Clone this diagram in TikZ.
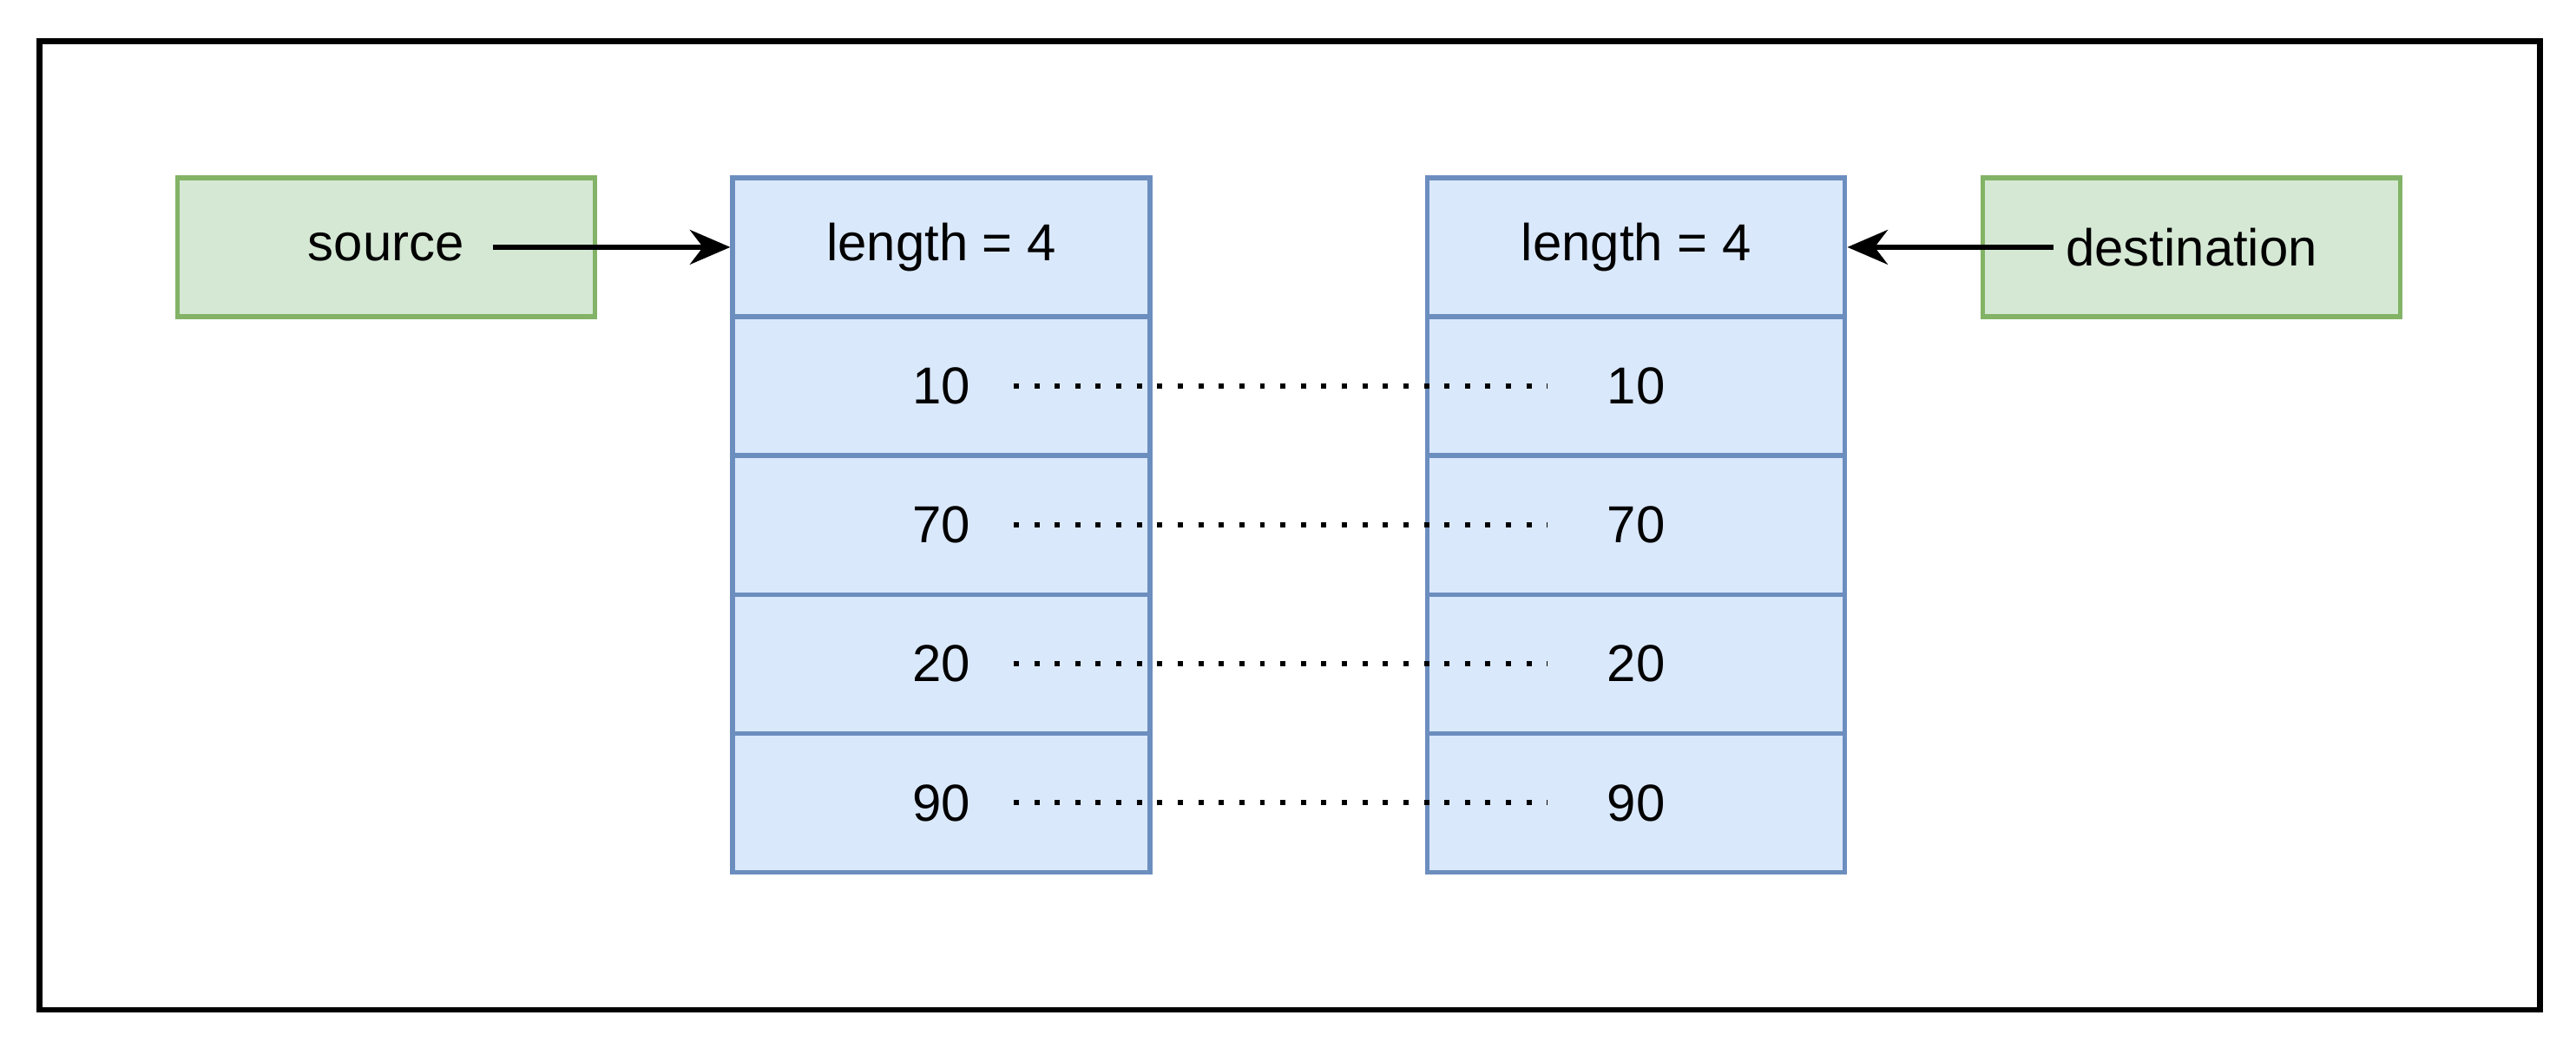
\documentclass[tikz,border=0pt]{standalone}
\usepackage{fontspec}
\setmainfont{Liberation Sans}
\usetikzlibrary{arrows.meta}
\definecolor{cellfill}{HTML}{DAE8FC}
\definecolor{celldraw}{HTML}{6C8EBF}
\definecolor{ptrfill}{HTML}{D5E8D4}
\definecolor{ptrdraw}{HTML}{82B366}
\tikzset{
  cell/.style={
    draw=celldraw, fill=cellfill, line width=0.8pt,
    minimum width=2.54cm, minimum height=0.845cm,
    inner sep=0pt, font=\fontsize{9}{10}\selectfont
  },
  pointer/.style={
    cell, draw=ptrdraw, fill=ptrfill
  },
  link/.style={
    line width=0.8pt, -{Stealth[length=7pt,width=6pt]}
  },
  copyline/.style={
    line width=0.9pt, dash pattern=on 0.9pt off 2.65pt
  }
}
\begin{document}
\begin{tikzpicture}[x=0.01cm, y=-0.01cm]
\path[use as bounding box] (0,0) rectangle (1568,638);
\draw[line width=1pt] (24,25) rectangle (1546,615);
\node[pointer] (source) at (235,150.5) {source};
\node[pointer] (destination) at (1334,150.5) {destination};
\foreach \v [count=\i from 0] in {length = 4,10,70,20,90} {
  \node[cell] (l\i) at (573,150.5+84.6*\i) {\v};
  \node[cell] (r\i) at (996,150.5+84.6*\i) {\v};
}
\draw[link] ([xshift=0.65cm]source.center) -- (l0.west);
\draw[link] ([xshift=-0.84cm]destination.center) -- (r0.east);
\foreach \i in {1,...,4} {
  \draw[copyline] ([xshift=0.44cm]l\i.center) -- ([xshift=-0.54cm]r\i.center);
}
\end{tikzpicture}
\end{document}
